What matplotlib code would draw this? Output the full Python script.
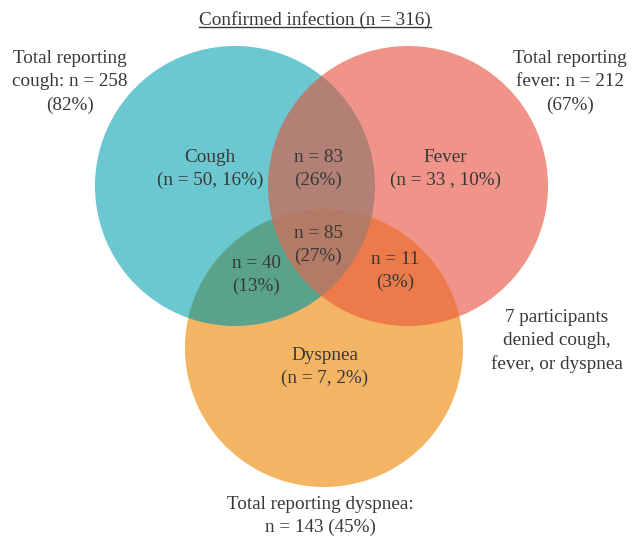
import numpy as np
import matplotlib
matplotlib.use("Agg")
import matplotlib.pyplot as plt

# ---- data ----
sets = ["Cough", "Fever", "Dyspnea"]
totals = [258, 212, 143]
total_pct = [82, 67, 45]
n_total = 316
only = {"Cough": (50, 16), "Fever": (33, 10), "Dyspnea": (7, 2)}
pairs = {"CF": (83, 26), "CD": (40, 13), "FD": (11, 3)}
triple = (85, 27)
denied = 7

# ---- layout (pixel coords) ----
W, H = 634, 536
centers = {"Cough": (235, 186), "Fever": (408, 186), "Dyspnea": (324, 348)}
radii = {"Cough": 140, "Fever": 140, "Dyspnea": 139}

col = {
    "C": (108, 200, 208), "F": (240, 148, 136), "D": (243, 182, 100),
    "CF": (180, 128, 118), "CD": (92, 163, 138), "FD": (236, 122, 76),
    "CFD": (180, 122, 102),
}

plt.rcParams['font.family'] = ['Liberation Serif', 'DejaVu Serif']
fig = plt.figure(figsize=(W / 100, H / 100), dpi=100)
ax = fig.add_axes([0, 0, 1, 1])
ax.set_xlim(0, W)
ax.set_ylim(H, 0)
ax.axis("off")

# region map
ss = 4
xs = (np.arange(W * ss) + 0.5) / ss
ys = (np.arange(H * ss) + 0.5) / ss
X, Y = np.meshgrid(xs, ys)
masks = {}
for k in sets:
    cx, cy = centers[k]
    masks[k[0]] = (X - cx) ** 2 + (Y - cy) ** 2 <= radii[k] ** 2
img = np.ones((H * ss, W * ss, 3))
mC, mF, mD = masks["C"], masks["F"], masks["D"]
regions = {
    "C": mC & ~mF & ~mD, "F": mF & ~mC & ~mD, "D": mD & ~mC & ~mF,
    "CF": mC & mF & ~mD, "CD": mC & mD & ~mF, "FD": mF & mD & ~mC,
    "CFD": mC & mF & mD,
}
for k, m in regions.items():
    img[m] = np.array(col[k]) / 255.0
img = img.reshape(H, ss, W, ss, 3).mean(axis=(1, 3))
ax.imshow(img, extent=(0, W, H, 0), interpolation="bilinear", zorder=0)
ax.set_xlim(0, W)
ax.set_ylim(H, 0)

tc = "#383838"
fs = 13.8
ls = 1.46
kw = dict(ha="center", va="center", color=tc, fontsize=fs, linespacing=ls)

t = ax.text(315, 20, f"Confirmed infection (n = {n_total})", **kw)
ax.text(70, 82, f"Total reporting\ncough: n = {totals[0]}\n({total_pct[0]}%)", **kw)
ax.text(570, 82, f"Total reporting\nfever: n = {totals[1]}\n({total_pct[1]}%)", **kw)
ax.text(320, 516, f"Total reporting dyspnea:\nn = {totals[2]} ({total_pct[2]}%)", **kw)
ax.text(557, 341, f"{denied} participants\ndenied cough,\nfever, or dyspnea", **kw)

ax.text(210, 169, f"Cough\n(n = {only['Cough'][0]}, {only['Cough'][1]}%)", **kw)
ax.text(445, 169, f"Fever\n(n = {only['Fever'][0]} , {only['Fever'][1]}%)", **kw)
ax.text(325, 367, f"Dyspnea\n(n = {only['Dyspnea'][0]}, {only['Dyspnea'][1]}%)", **kw)
ax.text(318, 169, f"n = {pairs['CF'][0]}\n({pairs['CF'][1]}%)", **kw)
ax.text(256, 275, f"n = {pairs['CD'][0]}\n({pairs['CD'][1]}%)", **kw)
ax.text(395, 271, f"n = {pairs['FD'][0]}\n({pairs['FD'][1]}%)", **kw)
ax.text(318, 245, f"n = {triple[0]}\n({triple[1]}%)", **kw)

# underline title
fig.canvas.draw()
bb = t.get_window_extent(fig.canvas.get_renderer())
inv = ax.transData.inverted()
(x0, y0), (x1, y1) = inv.transform([[bb.x0, bb.y0], [bb.x1, bb.y1]])
ax.plot([x0, x1], [y0 - 1.5, y0 - 1.5], color=tc, lw=1.0)

fig.savefig("out.png", dpi=100)
